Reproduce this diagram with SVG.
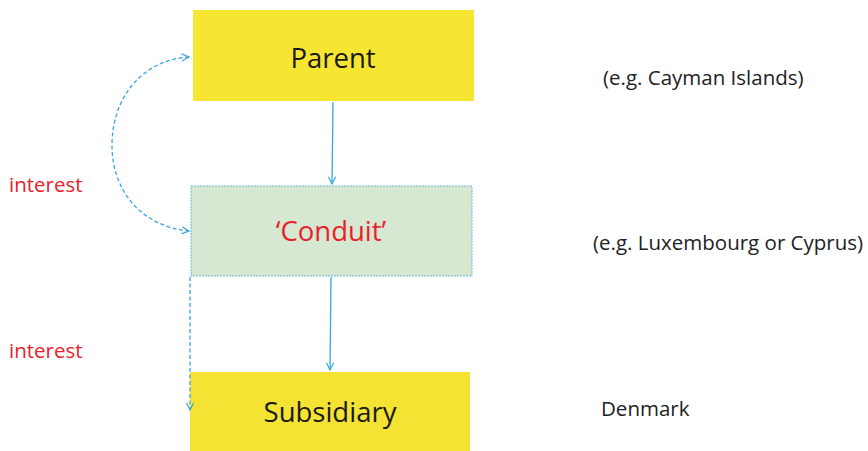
<svg xmlns="http://www.w3.org/2000/svg" width="868" height="451" viewBox="0 0 868 451">
<defs>
<style>
.t{font-family:"Open Sans","Liberation Sans",sans-serif;}
.big{font-size:27.5px;fill:#1a1a1a;text-anchor:middle;}
.note{font-size:20.5px;fill:#222;}
.red{fill:#e8222b;}
.ln{stroke:#3aa6df;stroke-width:1.3;fill:none;}
.dash{stroke-dasharray:4 2.5;}
</style>
<marker id="ah" viewBox="0 0 10 10" refX="9" refY="5" markerWidth="9" markerHeight="9" markerUnits="userSpaceOnUse" orient="auto-start-reverse">
<path d="M1,1 L9,5 L1,9" fill="none" stroke="#3aa6df" stroke-width="1.3"/>
</marker>
</defs>
<rect width="868" height="451" fill="#ffffff"/>
<g id="parent">
<rect x="193" y="10" width="281" height="91" fill="#f6e631"/>
<text class="t big" x="333" y="68">Parent</text>
</g>
<g id="conduit">
<rect x="191" y="186" width="281" height="90" fill="#d6e7d2" stroke="#4fa9d8" stroke-width="0.8" stroke-dasharray="2 1"/>
<text class="t big red" x="331" y="241">‘Conduit’</text>
</g>
<g id="subsidiary">
<rect x="190" y="372" width="280" height="80" fill="#f4e332"/>
<text class="t big" x="330" y="422">Subsidiary</text>
</g>
<g id="labels">
<text class="t note" x="603" y="85">(e.g. Cayman Islands)</text>
<text class="t note" x="593" y="250">(e.g. Luxembourg or Cyprus)</text>
<text class="t note" x="601" y="416">Denmark</text>
<text class="t note red" x="9" y="192">interest</text>
<text class="t note red" x="9" y="358">interest</text>
</g>
<g id="connectors">
<path class="ln" d="M333,102 L332,184" marker-end="url(#ah)"/>
<path class="ln" d="M331,277 L330,370" marker-end="url(#ah)"/>
<path class="ln dash" d="M189,57 C140,60 112,100 112,145 C112,190 140,226 189,231" marker-start="url(#ah)" marker-end="url(#ah)"/>
<path class="ln dash" d="M190,277 L190,410" marker-end="url(#ah)"/>
</g>
</svg>
